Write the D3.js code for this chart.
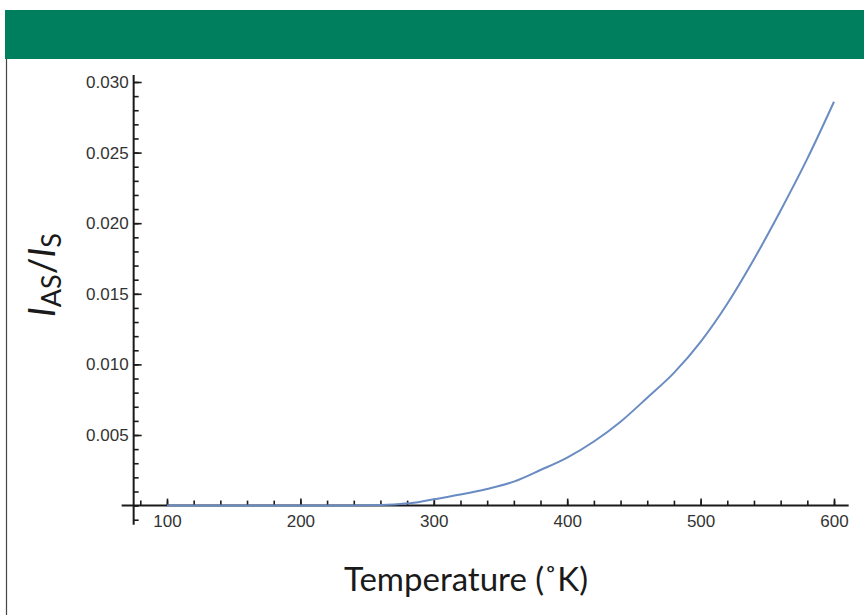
<!DOCTYPE html>
<html>
<head>
<meta charset="utf-8">
<script src="https://cdn.jsdelivr.net/npm/d3@7"></script>
<style>
  html, body { margin: 0; padding: 0; background: #fff; }
  svg { display: block; }
</style>
</head>
<body>
<svg id="chart" width="864" height="615"></svg>
<script>
// ---- data ----
const temperature = [100, 150, 200, 250, 270, 285, 300, 320, 340, 360, 380, 400, 420, 440, 460, 480, 500, 520, 540, 560, 580, 600];
const ratio =       [0, 0, 0.000002, 0.00002, 0.00008, 0.0002, 0.00045, 0.00078, 0.00118, 0.0017, 0.00252, 0.0034, 0.00454, 0.00594, 0.00764, 0.0094, 0.0116, 0.0143, 0.01745, 0.0209, 0.02457, 0.0286];
const xMajorTicks = [100, 200, 300, 400, 500, 600];
const xMinorTicks = d3.range(80, 601, 20);
const yMajorTicks = [0.005, 0.010, 0.015, 0.020, 0.025, 0.030];
const yMinorTicks = d3.range(-1, 31, 1).map(d => d / 1000);
const xTitle = "Temperature (˚K)";

const svg = d3.select("#chart");

// banner and frame
svg.append("rect").attr("x", 5).attr("y", 10).attr("width", 859).attr("height", 49).attr("fill", "#007f5f");
svg.append("line").attr("x1", 6.5).attr("x2", 6.5).attr("y1", 59).attr("y2", 615).attr("stroke", "#444").attr("stroke-width", 1.2);

const x = d3.scaleLinear().domain([100, 600]).range([167, 834]);
const y = d3.scaleLinear().domain([0, 0.030]).range([505.6, 82]);

const xOrigin = 75;
const axisColor = "#1a1a1a";
const labelFont = "'Liberation Sans', Arial, sans-serif";

// axis lines
svg.append("line")
  .attr("x1", x(66)).attr("x2", x(611))
  .attr("y1", y(0)).attr("y2", y(0))
  .attr("stroke", axisColor).attr("stroke-width", 2);
svg.append("line")
  .attr("x1", x(xOrigin)).attr("x2", x(xOrigin))
  .attr("y1", y(-0.00135)).attr("y2", y(0.0305))
  .attr("stroke", axisColor).attr("stroke-width", 2);

// y axis (ticks to the right, labels left)
const yMinor = svg.append("g").attr("transform", `translate(${x(xOrigin)},0)`)
  .call(d3.axisLeft(y).tickValues(yMinorTicks).tickSize(-5).tickSizeOuter(0).tickFormat(""));
const yMajor = svg.append("g").attr("transform", `translate(${x(xOrigin)},0)`)
  .call(d3.axisLeft(y).tickValues(yMajorTicks).tickSize(-8).tickSizeOuter(0).tickPadding(5).tickFormat(d3.format(".3f")));

// x axis (ticks upward, labels below)
const xMinor = svg.append("g").attr("transform", `translate(0,${y(0)})`)
  .call(d3.axisBottom(x).tickValues(xMinorTicks).tickSize(-5).tickSizeOuter(0).tickFormat(""));
const xMajor = svg.append("g").attr("transform", `translate(0,${y(0)})`)
  .call(d3.axisBottom(x).tickValues(xMajorTicks).tickSize(-7).tickSizeOuter(0).tickPadding(9).tickFormat(d3.format("d")));

[yMinor, yMajor, xMinor, xMajor].forEach(g => {
  g.attr("font-size", null);
  g.select(".domain").remove();
  g.selectAll(".tick line").attr("stroke", axisColor).attr("stroke-width", 1.6);
  g.selectAll(".tick text").attr("fill", "#333").attr("font-family", labelFont).attr("font-size", "17px");
});

// curve
const line = d3.line()
  .x((d, i) => x(temperature[i]))
  .y(d => y(d))
  .curve(d3.curveMonotoneX);
svg.append("path")
  .datum(ratio)
  .attr("d", line)
  .attr("fill", "none")
  .attr("stroke", "#6a8cc2")
  .attr("stroke-width", 2);

// axis titles
const titleFont = "Lato, 'Open Sans', sans-serif";
svg.append("text")
  .attr("x", 466).attr("y", 591)
  .attr("text-anchor", "middle")
  .attr("font-family", titleFont).attr("font-size", "33px")
  .attr("fill", "#1a1a1a")
  .text(xTitle);

const yt = svg.append("text")
  .attr("transform", "translate(55,275) rotate(-90)")
  .attr("text-anchor", "middle")
  .attr("font-family", titleFont).attr("font-size", "37px")
  .attr("fill", "#1a1a1a");
yt.append("tspan").attr("font-style", "italic").text("I");
yt.append("tspan").attr("dy", 6).attr("font-size", "27px").text("AS");
yt.append("tspan").attr("dy", -6).text("/");
yt.append("tspan").attr("font-style", "italic").text("I");
yt.append("tspan").attr("dy", 6).attr("font-size", "27px").text("S");
</script>
</body>
</html>
